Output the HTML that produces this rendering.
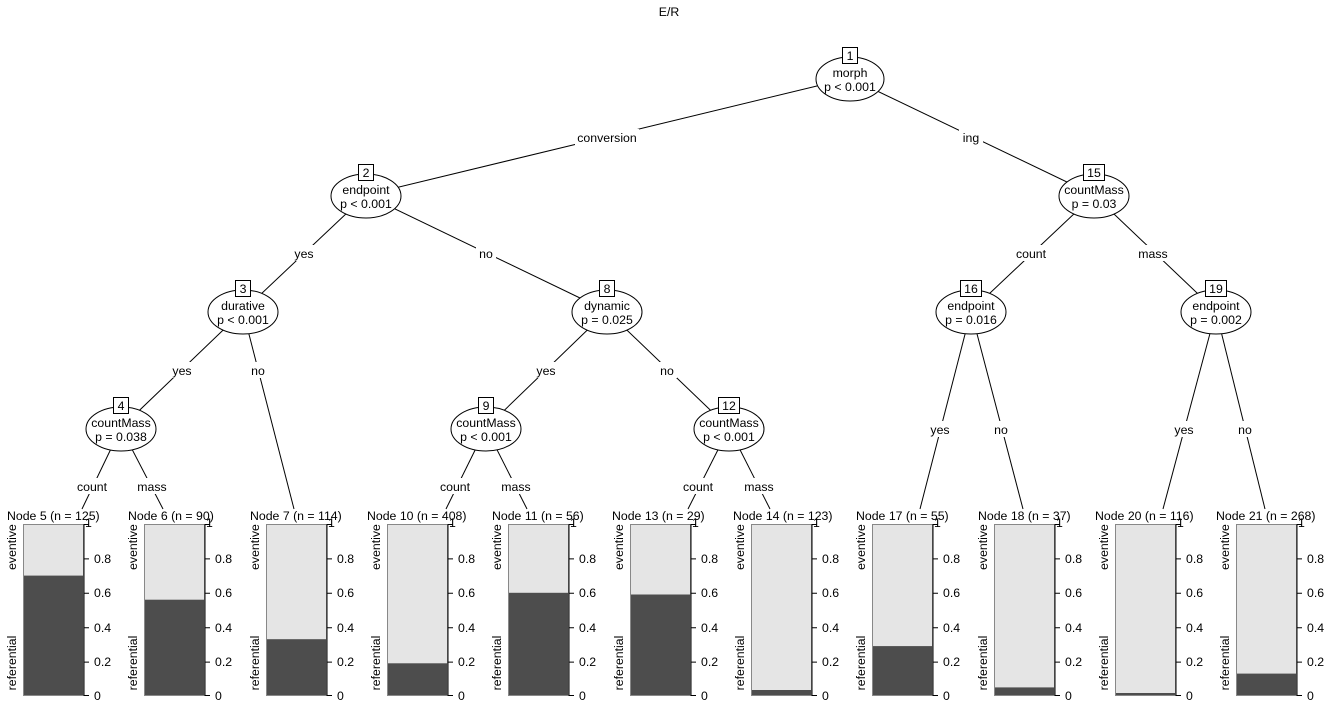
<!DOCTYPE html>
<html><head><meta charset="utf-8"><style>
html,body{margin:0;padding:0;background:#fff}
svg{display:block}
text{font-family:"Liberation Sans",Arial,sans-serif;font-size:12.3px;fill:#000}
</style></head><body>
<svg width="1336" height="708" viewBox="0 0 1336 708" xmlns="http://www.w3.org/2000/svg">
<text x="669" y="16" text-anchor="middle">E/R</text>
<g stroke="#000" stroke-width="1" fill="none">
<line x1="850" y1="78" x2="366" y2="195"/>
<line x1="850" y1="78" x2="1094" y2="195"/>
<line x1="366" y1="195" x2="243" y2="311"/>
<line x1="366" y1="195" x2="607" y2="311"/>
<line x1="243" y1="311" x2="121" y2="428"/>
<line x1="243" y1="311" x2="294" y2="509"/>
<line x1="121" y1="428" x2="82" y2="509"/>
<line x1="121" y1="428" x2="163" y2="509"/>
<line x1="607" y1="311" x2="486" y2="428"/>
<line x1="607" y1="311" x2="729" y2="428"/>
<line x1="486" y1="428" x2="446" y2="509"/>
<line x1="486" y1="428" x2="527" y2="509"/>
<line x1="729" y1="428" x2="688" y2="509"/>
<line x1="729" y1="428" x2="770" y2="509"/>
<line x1="1094" y1="195" x2="971" y2="311"/>
<line x1="1094" y1="195" x2="1216" y2="311"/>
<line x1="971" y1="311" x2="920" y2="509"/>
<line x1="971" y1="311" x2="1023" y2="509"/>
<line x1="1216" y1="311" x2="1163" y2="509"/>
<line x1="1216" y1="311" x2="1265" y2="509"/>
</g>
<g fill="#fff">
<rect x="575" y="129" width="64" height="16"/><rect x="959" y="129" width="24" height="16"/>
<rect x="290" y="245" width="28" height="16"/><rect x="476" y="245" width="20" height="16"/>
<rect x="1013" y="245" width="36" height="16"/><rect x="1136" y="245" width="34" height="16"/>
<rect x="168" y="362" width="28" height="16"/><rect x="248" y="362" width="20" height="16"/>
<rect x="532" y="362" width="28" height="16"/><rect x="657" y="362" width="20" height="16"/>
<rect x="926" y="421" width="28" height="16"/><rect x="991" y="421" width="20" height="16"/>
<rect x="1170" y="421" width="28" height="16"/><rect x="1235" y="421" width="20" height="16"/>
<rect x="74" y="478" width="36" height="16"/><rect x="135" y="478" width="34" height="16"/>
<rect x="437" y="478" width="36" height="16"/><rect x="499" y="478" width="34" height="16"/>
<rect x="680" y="478" width="36" height="16"/><rect x="742" y="478" width="34" height="16"/>
</g>
<g text-anchor="middle">
<text x="607" y="142">conversion</text><text x="971" y="142">ing</text>
<text x="304" y="258">yes</text><text x="486" y="258">no</text>
<text x="1031" y="258">count</text><text x="1153" y="258">mass</text>
<text x="182" y="375">yes</text><text x="258" y="375">no</text>
<text x="546" y="375">yes</text><text x="667" y="375">no</text>
<text x="940" y="434">yes</text><text x="1001" y="434">no</text>
<text x="1184" y="434">yes</text><text x="1245" y="434">no</text>
<text x="92" y="491">count</text><text x="152" y="491">mass</text>
<text x="455" y="491">count</text><text x="516" y="491">mass</text>
<text x="698" y="491">count</text><text x="759" y="491">mass</text>
</g>
<g stroke="#000" fill="#fff">
<ellipse cx="850" cy="79" rx="34" ry="22"/>
<ellipse cx="366" cy="196" rx="35" ry="22"/>
<ellipse cx="1094" cy="196" rx="35" ry="22"/>
<ellipse cx="243" cy="312" rx="35" ry="22"/>
<ellipse cx="607" cy="312" rx="35" ry="22"/>
<ellipse cx="971" cy="312" rx="35" ry="22"/>
<ellipse cx="1216" cy="312" rx="35" ry="22"/>
<ellipse cx="121" cy="429" rx="35" ry="22"/>
<ellipse cx="486" cy="429" rx="35" ry="22"/>
<ellipse cx="729" cy="429" rx="35" ry="22"/>
<rect x="842.5" y="47.5" width="15" height="16"/>
<rect x="358.5" y="164.5" width="15" height="16"/>
<rect x="1083.5" y="164.5" width="21" height="16"/>
<rect x="235.5" y="280.5" width="15" height="16"/>
<rect x="599.5" y="280.5" width="15" height="16"/>
<rect x="960.5" y="280.5" width="21" height="16"/>
<rect x="1205.5" y="280.5" width="21" height="16"/>
<rect x="113.5" y="397.5" width="15" height="16"/>
<rect x="478.5" y="397.5" width="15" height="16"/>
<rect x="718.5" y="397.5" width="21" height="16"/>
</g>
<g text-anchor="middle">
<text x="850" y="60">1</text><text x="850" y="77">morph</text><text x="850" y="91">p &lt; 0.001</text>
<text x="366" y="177">2</text><text x="366" y="194">endpoint</text><text x="366" y="208">p &lt; 0.001</text>
<text x="1094" y="177">15</text><text x="1094" y="194">countMass</text><text x="1094" y="208">p = 0.03</text>
<text x="243" y="293">3</text><text x="243" y="310">durative</text><text x="243" y="324">p &lt; 0.001</text>
<text x="607" y="293">8</text><text x="607" y="310">dynamic</text><text x="607" y="324">p = 0.025</text>
<text x="971" y="293">16</text><text x="971" y="310">endpoint</text><text x="971" y="324">p = 0.016</text>
<text x="1216" y="293">19</text><text x="1216" y="310">endpoint</text><text x="1216" y="324">p = 0.002</text>
<text x="121" y="410">4</text><text x="121" y="427">countMass</text><text x="121" y="441">p = 0.038</text>
<text x="486" y="410">9</text><text x="486" y="427">countMass</text><text x="486" y="441">p &lt; 0.001</text>
<text x="729" y="410">12</text><text x="729" y="427">countMass</text><text x="729" y="441">p &lt; 0.001</text>
</g>

<g transform="translate(23,0)">
<text x="-16" y="520">Node 5 (n = 125)</text>
<rect x="0" y="524" width="61" height="172" fill="#e5e5e5"/><rect x="0" y="575.6" width="61" height="120.4" fill="#4d4d4d"/>
<rect x="0.5" y="524.5" width="60" height="171" fill="none" stroke="#888"/>
<path d="M61,524v172M61,524.5h5M61,558.9h5M61,593.3h5M61,627.7h5M61,662.1h5M61,695.5h5" stroke="#000" fill="none"/>
<text x="62" y="527">1</text><text x="71" y="563">0.8</text><text x="71" y="597">0.6</text><text x="71" y="632">0.4</text><text x="71" y="666">0.2</text><text x="71" y="700">0</text>
<text transform="translate(-7,547) rotate(-90)" text-anchor="middle">eventive</text>
<text transform="translate(-7,663) rotate(-90)" text-anchor="middle">referential</text>
</g>
<g transform="translate(144,0)">
<text x="-16" y="520">Node 6 (n = 90)</text>
<rect x="0" y="524" width="61" height="172" fill="#e5e5e5"/><rect x="0" y="599.7" width="61" height="96.3" fill="#4d4d4d"/>
<rect x="0.5" y="524.5" width="60" height="171" fill="none" stroke="#888"/>
<path d="M61,524v172M61,524.5h5M61,558.9h5M61,593.3h5M61,627.7h5M61,662.1h5M61,695.5h5" stroke="#000" fill="none"/>
<text x="62" y="527">1</text><text x="71" y="563">0.8</text><text x="71" y="597">0.6</text><text x="71" y="632">0.4</text><text x="71" y="666">0.2</text><text x="71" y="700">0</text>
<text transform="translate(-7,547) rotate(-90)" text-anchor="middle">eventive</text>
<text transform="translate(-7,663) rotate(-90)" text-anchor="middle">referential</text>
</g>
<g transform="translate(266,0)">
<text x="-16" y="520">Node 7 (n = 114)</text>
<rect x="0" y="524" width="61" height="172" fill="#e5e5e5"/><rect x="0" y="639.2" width="61" height="56.8" fill="#4d4d4d"/>
<rect x="0.5" y="524.5" width="60" height="171" fill="none" stroke="#888"/>
<path d="M61,524v172M61,524.5h5M61,558.9h5M61,593.3h5M61,627.7h5M61,662.1h5M61,695.5h5" stroke="#000" fill="none"/>
<text x="62" y="527">1</text><text x="71" y="563">0.8</text><text x="71" y="597">0.6</text><text x="71" y="632">0.4</text><text x="71" y="666">0.2</text><text x="71" y="700">0</text>
<text transform="translate(-7,547) rotate(-90)" text-anchor="middle">eventive</text>
<text transform="translate(-7,663) rotate(-90)" text-anchor="middle">referential</text>
</g>
<g transform="translate(387,0)">
<text x="-20" y="520">Node 10 (n = 408)</text>
<rect x="0" y="524" width="61" height="172" fill="#e5e5e5"/><rect x="0" y="663.3" width="61" height="32.7" fill="#4d4d4d"/>
<rect x="0.5" y="524.5" width="60" height="171" fill="none" stroke="#888"/>
<path d="M61,524v172M61,524.5h5M61,558.9h5M61,593.3h5M61,627.7h5M61,662.1h5M61,695.5h5" stroke="#000" fill="none"/>
<text x="62" y="527">1</text><text x="71" y="563">0.8</text><text x="71" y="597">0.6</text><text x="71" y="632">0.4</text><text x="71" y="666">0.2</text><text x="71" y="700">0</text>
<text transform="translate(-7,547) rotate(-90)" text-anchor="middle">eventive</text>
<text transform="translate(-7,663) rotate(-90)" text-anchor="middle">referential</text>
</g>
<g transform="translate(508,0)">
<text x="-16" y="520">Node 11 (n = 56)</text>
<rect x="0" y="524" width="61" height="172" fill="#e5e5e5"/><rect x="0" y="592.8" width="61" height="103.2" fill="#4d4d4d"/>
<rect x="0.5" y="524.5" width="60" height="171" fill="none" stroke="#888"/>
<path d="M61,524v172M61,524.5h5M61,558.9h5M61,593.3h5M61,627.7h5M61,662.1h5M61,695.5h5" stroke="#000" fill="none"/>
<text x="62" y="527">1</text><text x="71" y="563">0.8</text><text x="71" y="597">0.6</text><text x="71" y="632">0.4</text><text x="71" y="666">0.2</text><text x="71" y="700">0</text>
<text transform="translate(-7,547) rotate(-90)" text-anchor="middle">eventive</text>
<text transform="translate(-7,663) rotate(-90)" text-anchor="middle">referential</text>
</g>
<g transform="translate(630,0)">
<text x="-18" y="520">Node 13 (n = 29)</text>
<rect x="0" y="524" width="61" height="172" fill="#e5e5e5"/><rect x="0" y="594.5" width="61" height="101.5" fill="#4d4d4d"/>
<rect x="0.5" y="524.5" width="60" height="171" fill="none" stroke="#888"/>
<path d="M61,524v172M61,524.5h5M61,558.9h5M61,593.3h5M61,627.7h5M61,662.1h5M61,695.5h5" stroke="#000" fill="none"/>
<text x="62" y="527">1</text><text x="71" y="563">0.8</text><text x="71" y="597">0.6</text><text x="71" y="632">0.4</text><text x="71" y="666">0.2</text><text x="71" y="700">0</text>
<text transform="translate(-7,547) rotate(-90)" text-anchor="middle">eventive</text>
<text transform="translate(-7,663) rotate(-90)" text-anchor="middle">referential</text>
</g>
<g transform="translate(751,0)">
<text x="-18" y="520">Node 14 (n = 123)</text>
<rect x="0" y="524" width="61" height="172" fill="#e5e5e5"/><rect x="0" y="690" width="61" height="6" fill="#4d4d4d"/>
<rect x="0.5" y="524.5" width="60" height="171" fill="none" stroke="#888"/>
<path d="M61,524v172M61,524.5h5M61,558.9h5M61,593.3h5M61,627.7h5M61,662.1h5M61,695.5h5" stroke="#000" fill="none"/>
<text x="62" y="527">1</text><text x="71" y="563">0.8</text><text x="71" y="597">0.6</text><text x="71" y="632">0.4</text><text x="71" y="666">0.2</text><text x="71" y="700">0</text>
<text transform="translate(-7,547) rotate(-90)" text-anchor="middle">eventive</text>
<text transform="translate(-7,663) rotate(-90)" text-anchor="middle">referential</text>
</g>
<g transform="translate(872,0)">
<text x="-16" y="520">Node 17 (n = 55)</text>
<rect x="0" y="524" width="61" height="172" fill="#e5e5e5"/><rect x="0" y="646.1" width="61" height="49.9" fill="#4d4d4d"/>
<rect x="0.5" y="524.5" width="60" height="171" fill="none" stroke="#888"/>
<path d="M61,524v172M61,524.5h5M61,558.9h5M61,593.3h5M61,627.7h5M61,662.1h5M61,695.5h5" stroke="#000" fill="none"/>
<text x="62" y="527">1</text><text x="71" y="563">0.8</text><text x="71" y="597">0.6</text><text x="71" y="632">0.4</text><text x="71" y="666">0.2</text><text x="71" y="700">0</text>
<text transform="translate(-7,547) rotate(-90)" text-anchor="middle">eventive</text>
<text transform="translate(-7,663) rotate(-90)" text-anchor="middle">referential</text>
</g>
<g transform="translate(994,0)">
<text x="-16" y="520">Node 18 (n = 37)</text>
<rect x="0" y="524" width="61" height="172" fill="#e5e5e5"/><rect x="0" y="687.4" width="61" height="8.6" fill="#4d4d4d"/>
<rect x="0.5" y="524.5" width="60" height="171" fill="none" stroke="#888"/>
<path d="M61,524v172M61,524.5h5M61,558.9h5M61,593.3h5M61,627.7h5M61,662.1h5M61,695.5h5" stroke="#000" fill="none"/>
<text x="62" y="527">1</text><text x="71" y="563">0.8</text><text x="71" y="597">0.6</text><text x="71" y="632">0.4</text><text x="71" y="666">0.2</text><text x="71" y="700">0</text>
<text transform="translate(-7,547) rotate(-90)" text-anchor="middle">eventive</text>
<text transform="translate(-7,663) rotate(-90)" text-anchor="middle">referential</text>
</g>
<g transform="translate(1115,0)">
<text x="-20" y="520">Node 20 (n = 116)</text>
<rect x="0" y="524" width="61" height="172" fill="#e5e5e5"/><rect x="0" y="693" width="61" height="3" fill="#4d4d4d"/>
<rect x="0.5" y="524.5" width="60" height="171" fill="none" stroke="#888"/>
<path d="M61,524v172M61,524.5h5M61,558.9h5M61,593.3h5M61,627.7h5M61,662.1h5M61,695.5h5" stroke="#000" fill="none"/>
<text x="62" y="527">1</text><text x="71" y="563">0.8</text><text x="71" y="597">0.6</text><text x="71" y="632">0.4</text><text x="71" y="666">0.2</text><text x="71" y="700">0</text>
<text transform="translate(-7,547) rotate(-90)" text-anchor="middle">eventive</text>
<text transform="translate(-7,663) rotate(-90)" text-anchor="middle">referential</text>
</g>
<g transform="translate(1236,0)">
<text x="-20" y="520">Node 21 (n = 268)</text>
<rect x="0" y="524" width="61" height="172" fill="#e5e5e5"/><rect x="0" y="673.6" width="61" height="22.4" fill="#4d4d4d"/>
<rect x="0.5" y="524.5" width="60" height="171" fill="none" stroke="#888"/>
<path d="M61,524v172M61,524.5h5M61,558.9h5M61,593.3h5M61,627.7h5M61,662.1h5M61,695.5h5" stroke="#000" fill="none"/>
<text x="62" y="527">1</text><text x="71" y="563">0.8</text><text x="71" y="597">0.6</text><text x="71" y="632">0.4</text><text x="71" y="666">0.2</text><text x="71" y="700">0</text>
<text transform="translate(-7,547) rotate(-90)" text-anchor="middle">eventive</text>
<text transform="translate(-7,663) rotate(-90)" text-anchor="middle">referential</text>
</g>
</svg>
</body></html>
